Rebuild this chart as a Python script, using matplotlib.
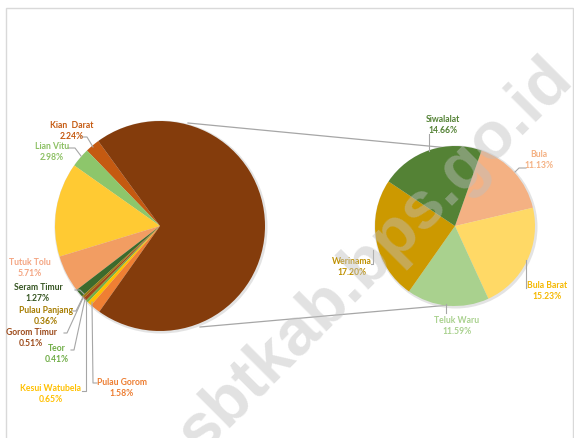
"""Pie-of-pie chart of Seram Bagian Timur districts (share per kecamatan)."""

import matplotlib.pyplot as plt
from matplotlib.patches import Circle, Rectangle

W, H = 574, 438

# Primary pie (counter-clockwise from the start angle), last slice is "other".
left_names = ["Kian  Darat", "Lian Vitu", "Kilmury", "Tutuk Tolu", "Seram Timur",
              "Pulau Panjang", "Gorom Timur", "Teor", "Kesui Watubela",
              "Pulau Gorom"]
left_values = [2.24, 2.98, 14.48, 5.71, 1.27, 0.36, 0.51, 0.41, 0.65, 1.58]
left_show = [True, True, False, True, True, True, True, True, True, True]

# Secondary pie (clockwise from the start angle).
right_names = ["Bula", "Bula Barat", "Teluk Waru", "Werinama", "Siwalalat"]
right_values = [11.13, 15.23, 11.59, 17.20, 14.66]

left_colors = ["#C55A11", "#8DC66B", "#FFCA33", "#F29D62", "#3C6A2C",
               "#9C7A12", "#A0481A", "#71AE48", "#FFC000", "#EF7F33"]
other_color = "#843C0C"
left_text_colors = ["#C55A11", "#8CC063", None, "#F4A582", "#375623",
                    "#A67C00", "#9C4A1A", "#70AD47", "#FFC000", "#ED7D31"]
right_colors = ["#F4B183", "#FFD966", "#A9D18E", "#CC9900", "#548235"]
right_text_colors = ["#F4B183", "#F5B800", "#A9D18E", "#BF9000", "#548235"]

# Label placement in pixels (x, y from top) and leader line paths.
left_label_pos = [(72, 131), (52, 152), None, (30, 268), (38, 293),
                  (46, 316), (31, 338), (57, 354), (51, 394), (122, 388)]
left_leaders = [
    [(81, 137), (87, 137), (93, 147)],
    [(68, 148), (75, 148), (81, 156)],
    None,
    None,
    [(75, 290), (80, 290), (84, 294)],
    [(73, 311), (76, 311), (83, 297)],
    [(64, 333), (67, 333), (83, 298)],
    [(71, 350), (74, 350), (85, 299)],
    [(82, 391), (86, 391), (86, 301)],
    [(97, 383), (93, 383), (92, 302)],
]
right_label_pos = [(539, 160), (547, 291), (457, 326), (352, 267), (443, 125)]
right_leaders = [
    [(526, 168), (519, 168), (515, 172)],
    [(526, 260), (526, 288)],
    [(446, 304), (446, 313)],
    [(373, 250), (373, 264), (371, 264)],
    [(429, 134), (429, 151)],
]


def px(x, y):
    return x, H - y


fig = plt.figure(figsize=(W / 100, H / 100), dpi=100)
ax = fig.add_axes([0, 0, 1, 1])

# Chart frame
ax.add_patch(Rectangle(px(6, 460), 567, 452, fill=False, ec="#D9D9D9",
                       lw=1.0, zorder=0))

# Connector lines between the pies
ax.plot(*zip(px(188, 123), px(470, 150)), color="#A6A6A6", lw=0.9, zorder=1)
ax.plot(*zip(px(200, 327), px(450, 305)), color="#A6A6A6", lw=0.9, zorder=1)

# Soft shadow rings behind the pies
for c, r in [((161, 227), 106.5), ((456, 227), 81.5)]:
    ax.add_patch(Circle(px(*c), r, color="#C8C8C8", alpha=0.5, lw=0,
                        zorder=1.5))

other_value = sum(right_values)
ax.pie(left_values + [other_value], colors=left_colors + [other_color],
       center=px(160, 226), radius=105, startangle=126, counterclock=True,
       wedgeprops=dict(linewidth=0, zorder=2), frame=True)
ax.pie(right_values, colors=right_colors, center=px(455, 226), radius=80,
       startangle=70.6, counterclock=False,
       wedgeprops=dict(linewidth=0, zorder=2), frame=True)

font = dict(family=["Lato", "DejaVu Sans"], fontweight="bold", fontsize=6.2,
            ha="center", va="center", linespacing=1.3, zorder=5)

for name, val, show, pos, col, lead in zip(left_names, left_values, left_show,
                                           left_label_pos, left_text_colors,
                                           left_leaders):
    if not show:
        continue
    ax.text(*px(*pos), f"{name}\n{val:.2f}%", color=col, **font)
    if lead:
        xs, ys = zip(*[px(*p) for p in lead])
        ax.plot(xs, ys, color="#A6A6A6", lw=0.8, zorder=4)

for name, val, pos, col, lead in zip(right_names, right_values,
                                     right_label_pos, right_text_colors,
                                     right_leaders):
    ax.text(*px(*pos), f"{name}\n{val:.2f}%", color=col, **font)
    xs, ys = zip(*[px(*p) for p in lead])
    ax.plot(xs, ys, color="#A6A6A6", lw=0.8, zorder=4)

# Watermark
ax.text(*px(376, 256), "sbtkab.bps.go.id", rotation=45, fontsize=48,
        family="Liberation Sans", fontweight="bold", color="#BFBFBF",
        alpha=0.45, ha="center", va="center", zorder=6)

ax.set_xlim(0, W)
ax.set_ylim(0, H)
ax.set_aspect("auto")
ax.axis("off")

fig.savefig("out.png", dpi=100)
